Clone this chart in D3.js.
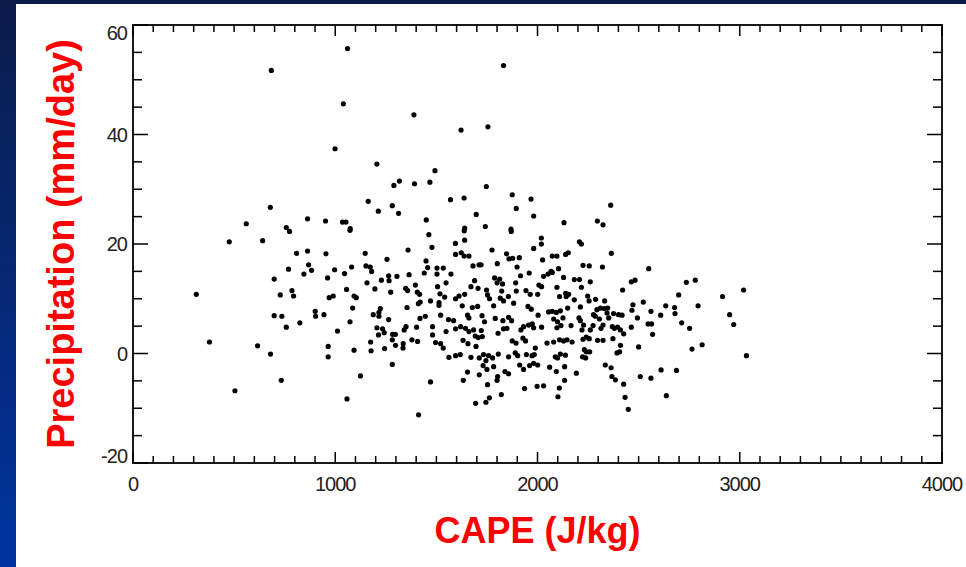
<!DOCTYPE html>
<html>
<head>
<meta charset="utf-8">
<script src="https://cdn.jsdelivr.net/npm/d3@7"></script>
<style>
  body { margin: 0; padding: 0; overflow: hidden; }
  svg { display: block; }
</style>
</head>
<body>
<svg width="966" height="567"></svg>
<script>
// CAPE (J/kg) and precipitation (mm/day), one entry per dot
var cape = [
  1061,684,1040,1389,1622,999,1206,1493,1290,1317,1392,1468,1163,1570,1637,679,1213,1282,1313,1697,
  560,863,952,1036,1053,1450,758,1074,1640,1832,1755,1747,1875,1968,1895,1981,2362,2131,2296,2324,
  1742,1869,774,1073,476,641,1463,1638,1594,1640,1478,1360,809,863,954,1148,1595,1623,1637,1661,
  1256,1449,1457,868,883,769,845,997,1046,1081,1152,1173,1180,1440,1503,1534,1503,1572,1681,1711,
  698,962,1228,1264,1266,1305,1365,1157,1396,1548,1689,1671,1706,313,728,786,794,1056,1196,1274,
  1348,1358,1406,1417,1506,1518,1541,1595,1612,1640,970,990,1093,1104,1471,1411,1420,1513,1513,1628,
  1678,1704,1086,1223,1216,1216,1188,1355,901,903,944,698,736,1445,1419,1521,1654,1661,1560,1585,
  1264,825,1073,758,1011,1206,1234,1242,1350,1341,1402,1481,1548,1620,1595,1644,1684,1661,1692,1707,
  1214,1283,1297,1282,1379,1407,1481,1496,1521,1534,1632,1656,1696,378,616,965,1175,1298,1336,1335,
  1244,1093,1177,680,965,1562,1595,1618,1671,1712,1282,1125,733,1471,1633,1654,1712,504,1058,1694,
  1412,1870,2019,2019,2207,2217,1775,1981,1847,1859,1877,1910,2025,2073,2096,2139,2152,2365,1721,1801,
  1899,2225,2256,2321,2550,1788,1813,1800,1827,1916,1959,2030,2052,2067,2073,2104,2129,2182,2208,2261,
  2217,1892,1895,2007,2020,2096,2139,2154,2142,2464,2482,2421,2736,2780,3019,2915,1748,1753,1823,1856,
  1943,1964,2001,2109,2182,2248,2255,2287,2332,2347,2523,2472,2698,1763,1783,1816,1832,1882,1953,1969,
  2003,2055,2073,2093,2113,2149,2212,2294,2311,2330,2344,2277,2286,2376,2401,2418,2467,2561,2609,2634,
  2678,2680,2794,1726,1738,1791,1829,1857,1872,1931,1918,1956,1974,1981,2020,2080,2099,2096,2116,2126,
  2166,2205,2212,2220,2228,2261,2275,2306,2314,2324,2352,2370,2380,2396,2410,2426,2464,2494,2547,2564,
  2569,2713,2752,2950,2970,1805,1832,1849,1727,1722,1875,1894,1928,1941,1989,2047,2080,2109,2129,2146,
  2171,2225,2241,2256,2297,2324,2373,2410,2500,2764,2814,1733,1758,1778,1745,1806,1857,1890,1902,1945,
  1973,1984,2088,2099,2113,2138,2232,2241,2258,2223,2238,2393,2406,1731,1750,1783,1803,1800,1839,1857,
  1912,1931,1961,1981,2001,2060,2093,2134,2134,2192,2335,2364,2368,2385,2508,2561,2611,2687,1753,1821,
  1762,1745,1936,1998,2030,2108,2101,2426,2433,2449,2637,3033
];
var precip = [
  55.7,51.7,45.6,43.6,40.8,37.4,34.6,33.4,30.7,31.5,31.0,31.3,27.8,28.1,28.4,26.7,26.0,27.0,25.6,25.4,
  23.7,24.6,24.2,24.0,24.0,24.4,23.0,22.8,22.9,52.6,41.4,30.5,29.0,28.2,26.5,25.1,27.1,23.9,24.2,23.5,
  23.2,22.7,22.3,22.5,20.4,20.6,21.7,22.4,20.1,20.7,19.4,18.9,18.3,18.7,18.2,18.3,18.1,18.4,17.8,17.8,
  17.2,16.9,15.7,16.2,15.2,15.4,14.5,15.3,14.6,15.8,16.0,15.8,15.0,14.7,15.6,15.6,14.5,14.5,16.0,16.2,
  13.6,13.8,13.4,14.2,13.3,14.1,14.4,12.9,12.5,12.9,13.3,12.2,11.9,10.8,10.7,11.5,10.5,11.7,11.8,11.2,
  11.9,11.5,11.2,10.8,12.2,10.9,10.3,10.0,10.5,10.8,10.2,10.5,10.5,10.2,9.6,9.1,9.4,9.3,8.8,8.7,
  8.4,8.6,8.3,8.2,7.5,6.8,7.1,8.4,7.7,6.8,7.1,6.9,6.8,6.8,6.4,7.0,7.0,6.5,6.2,6.0,
  6.2,5.6,5.8,4.8,4.1,4.7,4.5,3.8,4.9,4.3,4.8,4.9,4.0,4.9,4.5,4.6,4.3,4.0,3.2,2.9,
  3.4,3.5,3.5,2.5,2.5,2.2,3.4,2.0,1.8,1.0,2.4,1.8,1.3,2.1,1.4,1.3,2.1,1.5,1.8,1.0,
  0.9,0.6,0.5,-0.1,-0.6,-0.7,-0.4,-0.2,-0.7,-0.8,-2.0,-4.1,-4.9,-5.2,-4.9,-3.4,-3.9,-6.8,-8.3,-9.1,
  -11.2,22.3,21.1,20.0,20.4,20.0,18.9,19.2,18.2,17.3,17.4,17.5,17.1,17.8,17.8,18.1,18.4,18.3,16.2,16.4,
  15.8,16.1,16.0,15.8,15.5,13.8,13.6,12.9,12.7,14.2,14.7,14.1,14.5,15.0,14.8,15.5,13.9,13.5,13.5,13.1,
  12.1,12.9,11.4,12.5,12.2,12.1,11.0,10.8,10.4,13.1,13.4,11.6,13.0,13.4,11.6,10.4,11.6,10.7,11.4,10.4,
  11.5,10.8,10.8,10.4,9.8,10.5,9.6,9.9,9.6,8.3,9.4,8.9,10.7,10.0,8.7,10.1,9.6,9.2,8.6,8.1,
  7.0,7.6,7.7,7.5,7.8,8.3,8.5,8.0,8.3,8.2,7.4,7.1,6.8,7.3,7.1,7.0,7.9,7.7,7.0,8.7,
  8.4,7.3,8.7,6.9,5.8,6.4,6.0,6.6,6.0,4.9,4.3,5.2,5.4,4.7,4.8,6.3,5.8,4.7,5.1,6.5,
  5.1,6.5,6.0,4.3,5.2,4.3,5.1,6.3,4.6,5.2,6.5,4.9,4.6,4.8,4.3,3.6,4.8,6.5,5.4,5.4,
  3.5,5.6,4.6,7.1,5.3,3.7,4.5,4.6,3.1,4.2,2.3,1.9,2.8,2.3,1.0,1.9,2.1,2.5,2.3,2.5,
  2.1,2.6,3.0,2.7,2.4,2.4,2.7,1.5,1.2,0.8,1.6,-0.2,-0.4,-0.8,-1.3,-0.1,-0.6,0.1,-0.4,-0.2,
  -0.4,-0.2,-0.6,-0.8,-0.1,-0.3,0.7,0.3,0.3,-0.6,-0.8,0.1,0.3,-2.2,-2.9,-2.4,-4.2,-4.9,-3.3,-3.7,
  -2.1,-2.9,-2.2,-1.8,-2.1,-2.5,-3.3,-2.4,-4.9,-3.6,-2.1,-2.6,-4.2,-4.8,-4.2,-4.5,-3.0,-3.1,-5.7,-7.5,
  -8.1,-8.9,-6.4,-6.0,-5.9,-6.3,-7.9,-5.6,-8.0,-10.2,-7.7,-0.4
];
var xTicks = [0, 1000, 2000, 3000, 4000];
var yTicks = [-20, 0, 20, 40, 60];

var svg = d3.select("svg");
var plotL = 133, plotR = 942, plotT = 25, plotB = 463;

var xScale = d3.scaleLinear().domain([0, 4000]).range([plotL, plotR]);
var yScale = d3.scaleLinear().domain([-20, 60]).range([plotB, plotT]);

// slide background
var grad = svg.append("defs").append("linearGradient")
  .attr("id", "bg").attr("x1", 0).attr("y1", 0).attr("x2", 0).attr("y2", 1);
grad.append("stop").attr("offset", "0%").attr("stop-color", "#0b1c4a");
grad.append("stop").attr("offset", "100%").attr("stop-color", "#0034a0");
svg.append("rect").attr("width", 966).attr("height", 567).attr("fill", "url(#bg)");
svg.append("rect").attr("x", 16).attr("y", 4).attr("width", 950).attr("height", 563).attr("fill", "#fff");

// tick marks (inside, on all four sides)
var ticks = svg.append("g").attr("stroke", "#000").attr("stroke-width", 1.5);
d3.range(0, 4001, 100).forEach(function(v) {
  var len = v % 1000 === 0 ? 11 : 7;
  ticks.append("line").attr("x1", xScale(v)).attr("x2", xScale(v)).attr("y1", plotB).attr("y2", plotB - len);
  ticks.append("line").attr("x1", xScale(v)).attr("x2", xScale(v)).attr("y1", plotT).attr("y2", plotT + len);
});
d3.range(-20, 61, 5).forEach(function(v) {
  var len = v % 20 === 0 ? 15 : 9;
  ticks.append("line").attr("y1", yScale(v)).attr("y2", yScale(v)).attr("x1", plotL).attr("x2", plotL + len);
  ticks.append("line").attr("y1", yScale(v)).attr("y2", yScale(v)).attr("x1", plotR).attr("x2", plotR - len);
});

svg.append("rect")
  .attr("x", plotL).attr("y", plotT)
  .attr("width", plotR - plotL).attr("height", plotB - plotT)
  .attr("fill", "none").attr("stroke", "#000").attr("stroke-width", 1.8);

// tick labels
svg.append("g").selectAll("text").data(xTicks).enter().append("text")
  .attr("x", function(d) { return xScale(d); })
  .attr("y", 491)
  .attr("text-anchor", "middle")
  .style("font-family", "Liberation Sans, Arial, sans-serif")
  .style("font-size", "20px").style("letter-spacing", "-1px")
  .style("fill", "#222")
  .text(function(d) { return d; });

svg.append("g").selectAll("text").data(yTicks).enter().append("text")
  .attr("x", 127)
  .attr("y", function(d) { return Math.min(Math.max(yScale(d), 33), 456) + 7; })
  .attr("text-anchor", "end")
  .style("font-family", "Liberation Sans, Arial, sans-serif")
  .style("font-size", "20px").style("letter-spacing", "-1px")
  .style("fill", "#222")
  .text(function(d) { return d; });

// the dots
svg.append("g").selectAll("circle").data(cape).enter().append("circle")
  .attr("cx", function(d) { return xScale(d); })
  .attr("cy", function(d, i) { return yScale(precip[i]); })
  .attr("r", 2.6)
  .attr("fill", "#000");

// axis titles
svg.append("text")
  .attr("x", (plotL + plotR) / 2).attr("y", 543)
  .attr("text-anchor", "middle")
  .style("font-family", "Liberation Sans, Arial, sans-serif")
  .style("font-size", "36px").style("font-weight", "bold")
  .style("fill", "#ff0000")
  .text("CAPE (J/kg)");

svg.append("text")
  .attr("transform", "translate(74," + (plotT + plotB) / 2 + ") rotate(-90)")
  .attr("text-anchor", "middle")
  .style("font-family", "Liberation Sans, Arial, sans-serif")
  .style("font-size", "38px").style("font-weight", "bold")
  .style("fill", "#ff0000")
  .text("Precipitation (mm/day)");
</script>
</body>
</html>
